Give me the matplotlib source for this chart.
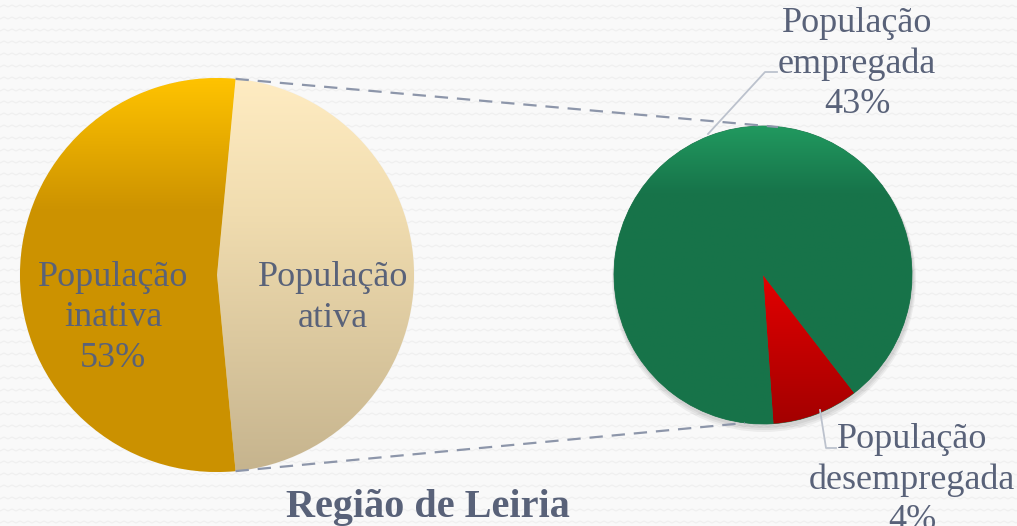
import numpy as np
import matplotlib.pyplot as plt
from matplotlib.colors import LinearSegmentedColormap

# dados
cat_main = ['População ativa', 'População inativa']
val_main = [47, 53]
cat_sub = ['População desempregada', 'População empregada']
val_sub = [4.4, 42.6]
titulo = 'Região de Leiria'

W, H = 1017, 526
txt_col = '#596279'
fonte = 'Liberation Serif'

fig = plt.figure(figsize=(W / 100, H / 100), dpi=100)
fig.patch.set_facecolor('#f9f9f9')
ax = fig.add_axes([0, 0, 1, 1])


def gradiente(wedge, stops):
    # gradiente vertical recortado pela fatia
    cmap = LinearSegmentedColormap.from_list('g', stops)
    bb = wedge.get_path().get_extents()
    grad = np.linspace(0, 1, 256).reshape(-1, 1)
    im = ax.imshow(grad, cmap=cmap, aspect='auto', origin='upper',
                   extent=(bb.x0, bb.x1, bb.y0, bb.y1), zorder=3)
    im.set_clip_path(wedge)


# pizza principal
c1 = (217, H - 275)
r1 = 197
ang1 = -val_main[0] / sum(val_main) * 360 / 2
w1, _ = ax.pie(val_main, center=c1, radius=r1, startangle=ang1,
               colors=['#fde9c0', '#d59c00'],
               wedgeprops=dict(linewidth=0.6, edgecolor='#f3f3f3'))
for w in w1:
    w.set_zorder(2)
gradiente(w1[0], [(0, '#ffecc2'), (0.35, '#f0dcaf'), (1, '#c6b48e')])
gradiente(w1[1], [(0, '#ffc300'), (0.33, '#cd9300'), (1, '#cb9100')])

# pizza secundária (sombra)
c2 = (763, H - 275)
r2 = 149
for k in range(3):
    sh = plt.Circle((c2[0] + 1, c2[1] - 3 - k), r2 + 1 + k, color='#000000',
                    alpha=0.05, lw=0, zorder=1)
    ax.add_patch(sh)
w2, _ = ax.pie(val_sub, center=c2, radius=r2, startangle=-86,
               colors=['#c00000', '#17734b'],
               wedgeprops=dict(linewidth=0.6, edgecolor='#2a7a55'))
for w in w2:
    w.set_zorder(2)
gradiente(w2[0], [(0, '#e20000'), (1, '#a30000')])
gradiente(w2[1], [(0, '#21995f'), (0.22, '#17744a'), (1, '#177349')])

# limites depois das pizzas (pie redefine xlim/ylim)
ax.set_xlim(0, W)
ax.set_ylim(0, H)
ax.set_aspect('equal')
ax.axis('off')

# padrão de fundo (zigue-zague suave)
xs = np.arange(0, W + 8, 4)
for y0 in np.arange(3, H, 12):
    ys = y0 + 2.0 * (np.arange(len(xs)) % 2)
    ax.plot(xs, ys, color='#efefef', lw=0.8, zorder=0)

# linhas de ligação
t_top = np.deg2rad(-ang1)
t_bot = np.deg2rad(ang1)
p_top = (c1[0] + r1 * np.cos(t_top), c1[1] + r1 * np.sin(t_top))
p_bot = (c1[0] + r1 * np.cos(t_bot), c1[1] + r1 * np.sin(t_bot))
ax.plot([p_top[0], c2[0] + 15], [p_top[1], c2[1] + r2 - 1], ls=(0, (6, 4)),
        color='#8d96aa', lw=1.6, zorder=4)
ax.plot([p_bot[0], c2[0] - 18], [p_bot[1], c2[1] - r2 + 1], ls=(0, (6, 4)),
        color='#8d96aa', lw=1.6, zorder=4)

# linhas de chamada
ax.plot([708, 765, 777], [H - 134, H - 72, H - 72], color='#bcc2cd', lw=1.3,
        zorder=4)
ax.plot([820, 826, 836], [H - 410, H - 448, H - 448], color='#bcc2cd', lw=1.3,
        zorder=4)

fs = 26
ls = 1.3
ax.text(113, H - 318, 'População\ninativa\n' + f'{val_main[1]}%', ha='center',
        va='center', fontsize=fs, family=fonte, color=txt_col,
        linespacing=ls, zorder=5)
ax.text(333, H - 298, 'População\nativa', ha='center', va='center',
        fontsize=fs, family=fonte, color=txt_col, linespacing=ls, zorder=5)
ax.text(857, H - 64, 'População\nempregada\n' + f'{round(val_sub[1])}%',
        ha='center', va='center', fontsize=fs, family=fonte, color=txt_col,
        linespacing=ls, zorder=5)
ax.text(912, H - 480, 'População\ndesempregada\n' + f'{round(val_sub[0])}%',
        ha='center', va='center', fontsize=fs, family=fonte, color=txt_col,
        linespacing=ls, zorder=5)

ax.text(428, H - 507, titulo, ha='center', va='center', fontsize=29,
        fontweight='bold', family=fonte, color=txt_col, zorder=5)

fig.savefig('out.png', dpi=100, facecolor=fig.get_facecolor())
